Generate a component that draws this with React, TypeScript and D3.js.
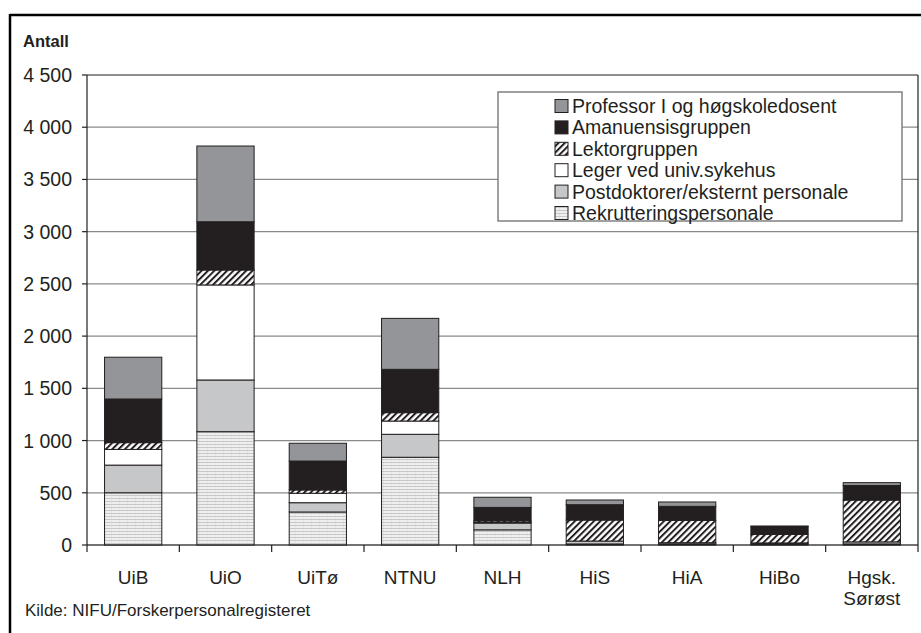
import React from "react";
import * as d3 from "d3";

const categories = ["UiB", "UiO", "UiTø", "NTNU", "NLH", "HiS", "HiA", "HiBo", "Hgsk.\nSørøst"];
const seriesNames = [
  "Rekrutteringspersonale",
  "Postdoktorer/eksternt personale",
  "Leger ved univ.sykehus",
  "Lektorgruppen",
  "Amanuensisgruppen",
  "Professor I og høgskoledosent",
];
const rekrut = [500, 1085, 316, 840, 145, 10, 10, 10, 10];
const postdok = [265, 495, 89, 220, 65, 28, 12, 10, 20];
const leger = [150, 910, 90, 127, 5, 0, 0, 0, 0];
const lektor = [65, 143, 32, 80, 15, 201, 214, 82, 400];
const aman = [418, 462, 277, 415, 130, 147, 134, 75, 140];
const prof = [400, 725, 170, 488, 97, 45, 42, 5, 27];
const yTicks = [0, 500, 1000, 1500, 2000, 2500, 3000, 3500, 4000, 4500];

const seriesValues = [rekrut, postdok, leger, lektor, aman, prof];
const fills = ["url(#rekrut)", "#c6c7c8", "#ffffff", "url(#hatch)", "#231f20", "#939598"];

const W = 921;
const H = 633;
const M = { left: 87, right: 918, top: 75, bottom: 545 };
const FONT = "'Liberation Sans', Arial, sans-serif";

export default function App() {
  const x = d3
    .scaleBand<string>()
    .domain(categories)
    .range([M.left, M.right])
    .paddingInner(0.38)
    .paddingOuter(0.19);
  const y = d3.scaleLinear().domain([0, 4500]).range([M.bottom, M.top]);
  const step = x.step();
  const loc = d3.formatLocale({ decimal: ",", thousands: " ", grouping: [3], currency: ["", ""] });
  const fmt = loc.format(",d");

  const rows = categories.map((c, i) => {
    const o: any = { cat: c };
    seriesNames.forEach((s, j) => (o[s] = seriesValues[j][i]));
    return o;
  });
  const stacked = d3.stack<any>().keys(seriesNames)(rows);

  const legendItems = seriesNames.map((s, j) => ({ s, fill: fills[j] })).reverse();

  return (
    <svg
      width={W}
      height={H}
      style={{ position: "absolute", left: 0, top: 0, background: "#fff" }}
      fontFamily={FONT}
    >
      <defs>
        <pattern id="rekrut" patternUnits="userSpaceOnUse" width={8} height={3}>
          <rect width={8} height={3} fill="#efefef" />
          <rect y={0} width={8} height={1} fill="#c8c8c8" />
          <rect x={7} y={1} width={1} height={2} fill="#e6e6e6" />
        </pattern>
        <pattern
          id="hatch"
          patternUnits="userSpaceOnUse"
          width={4.5}
          height={4.5}
          patternTransform="rotate(45)"
        >
          <rect width={4.5} height={4.5} fill="#fff" />
          <rect x={0} width={2} height={4.5} fill="#231f20" />
        </pattern>
      </defs>

      {/* outer frame */}
      <line x1={10} x2={W} y1={15} y2={15} stroke="#000" strokeWidth={2.5} />
      <line x1={10} x2={10} y1={14} y2={H} stroke="#000" strokeWidth={2.5} />

      {/* gridlines */}
      {yTicks.map((t) => (
        <line
          key={"g" + t}
          x1={M.left}
          x2={M.right}
          y1={y(t)}
          y2={y(t)}
          stroke={t === 4500 ? "#231f20" : "#8a8a8a"}
          strokeWidth={1.2}
        />
      ))}
      <line x1={M.right} x2={M.right} y1={M.top} y2={M.bottom} stroke="#231f20" strokeWidth={1.2} />

      {/* bars */}
      {stacked.map((layer, j) =>
        layer.map((d, i) => {
          const h = y(d[0]) - y(d[1]);
          if (h <= 0) return null;
          return (
            <rect
              key={j + "-" + i}
              x={x(categories[i])}
              y={y(d[1])}
              width={x.bandwidth()}
              height={h}
              fill={fills[j]}
              stroke="#231f20"
              strokeWidth={1}
            />
          );
        })
      )}

      {/* y axis */}
      <line x1={M.left} x2={M.left} y1={M.top} y2={M.bottom} stroke="#231f20" strokeWidth={1.2} />
      {yTicks.map((t) => (
        <g key={"t" + t}>
          <line x1={M.left - 5} x2={M.left} y1={y(t)} y2={y(t)} stroke="#231f20" strokeWidth={1.2} />
          <text x={72} y={y(t)} dy="0.36em" textAnchor="end" fontSize={19.5} fill="#231f20">
            {fmt(t)}
          </text>
        </g>
      ))}

      {/* x axis */}
      <line x1={M.left} x2={M.right} y1={M.bottom} y2={M.bottom} stroke="#231f20" strokeWidth={1.2} />
      {d3.range(categories.length + 1).map((i) => {
        const bx = M.left + i * step;
        return <line key={"xt" + i} x1={bx} x2={bx} y1={M.bottom} y2={M.bottom + 7} stroke="#231f20" strokeWidth={1.2} />;
      })}
      {categories.map((c) => {
        const cx = (x(c) as number) + x.bandwidth() / 2;
        const lines = c.split("\n");
        return (
          <text key={"xl" + c} x={cx} y={584} textAnchor="middle" fontSize={19} fill="#231f20">
            {lines.map((l, k) => (
              <tspan key={k} x={cx} dy={k === 0 ? 0 : 21}>
                {l}
              </tspan>
            ))}
          </text>
        );
      })}

      {/* titles */}
      <text x={23} y={47} fontSize={16.5} fontWeight="bold" fill="#231f20">
        Antall
      </text>
      <text x={25} y={616} fontSize={17} fill="#231f20">
        Kilde: NIFU/Forskerpersonalregisteret
      </text>

      {/* legend */}
      <rect x={498} y={92} width={404} height={129} fill="#fff" stroke="#808080" strokeWidth={1.5} />
      {legendItems.map((it, k) => {
        const cy = 106 + k * 21.4;
        return (
          <g key={"lg" + k}>
            <rect x={555} y={cy - 6.5} width={13} height={13} fill={it.fill} stroke="#231f20" strokeWidth={1} />
            <text x={572} y={cy} dy="0.36em" fontSize={19.5} fill="#231f20">
              {it.s}
            </text>
          </g>
        );
      })}
    </svg>
  );
}
